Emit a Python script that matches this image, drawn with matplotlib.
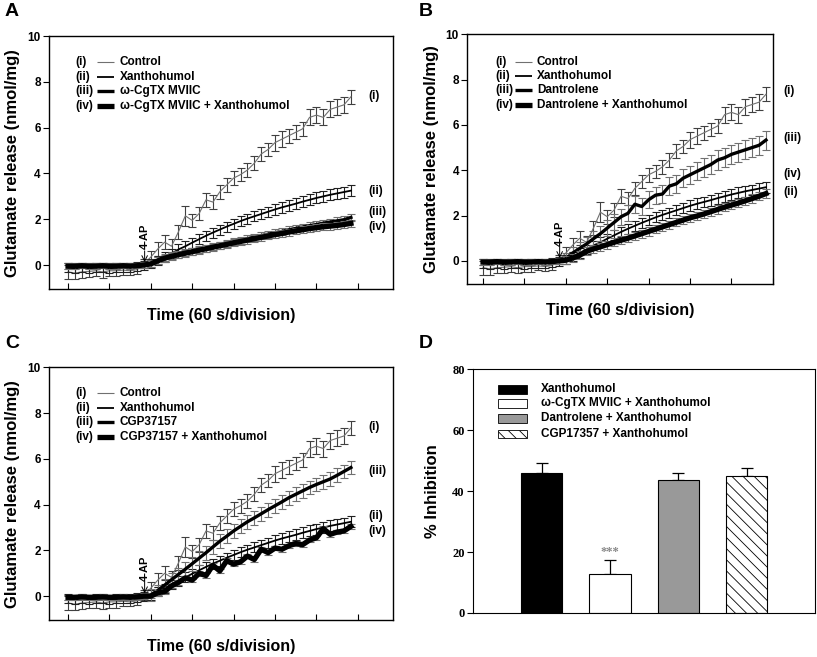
import matplotlib
matplotlib.use('Agg')
import matplotlib.pyplot as plt
import numpy as np
from matplotlib.patches import Rectangle

plt.rcParams['font.family'] = ['Liberation Sans', 'DejaVu Sans']
plt.rcParams['font.weight'] = 'bold'
plt.rcParams['hatch.linewidth'] = 0.6

# time grid, 10 s samples (x axis in minutes = divisions)
t = np.arange(42) / 6.0
t_4ap = 1.9

control = [-0.30, -0.35, -0.30, -0.28, -0.25, -0.30, -0.25, -0.25, -0.22, -0.25, -0.20, 0.05,
           0.35, 0.70, 1.00, 0.82, 1.45, 2.15, 1.95, 2.25, 2.85, 2.75, 3.20, 3.50, 3.80, 3.95,
           4.15, 4.45, 4.85, 5.05, 5.35, 5.50, 5.65, 5.80, 5.95, 6.45, 6.55, 6.45, 6.80, 6.90,
           7.00, 7.35]
control_err = [0.30, 0.25, 0.25, 0.25, 0.25, 0.25, 0.25, 0.25, 0.20, 0.20, 0.20, 0.20,
               0.25, 0.30, 0.30, 0.30, 0.30, 0.45, 0.30, 0.30, 0.30, 0.30, 0.30, 0.30, 0.30, 0.30,
               0.30, 0.30, 0.30, 0.30, 0.35, 0.35, 0.30, 0.30, 0.30, 0.35, 0.35, 0.35, 0.35, 0.35,
               0.35, 0.30]
xanth = [-0.10, -0.15, -0.10, -0.15, -0.10, -0.10, -0.15, -0.10, -0.10, -0.10, -0.05, -0.02,
         0.05, 0.20, 0.35, 0.50, 0.68, 0.82, 0.98, 1.13, 1.28, 1.42, 1.55, 1.68, 1.80, 1.92,
         2.03, 2.13, 2.23, 2.33, 2.43, 2.52, 2.60, 2.68, 2.77, 2.85, 2.93, 3.00, 3.07, 3.13,
         3.19, 3.25]
xanth_err = [0.20] * 12 + [0.20, 0.20, 0.20, 0.20, 0.22, 0.22, 0.22, 0.22, 0.22, 0.22, 0.22, 0.22,
                           0.22, 0.22, 0.22, 0.22, 0.22, 0.22, 0.24, 0.24, 0.24, 0.24, 0.24, 0.24,
                           0.24, 0.24, 0.24, 0.24, 0.24, 0.24]

base_thick = [-0.05, -0.05, -0.03, -0.05, -0.05, -0.03, -0.05, -0.05, -0.03, -0.05, -0.03, 0.0]

cgtx = base_thick + [0.06, 0.20, 0.32, 0.40, 0.47, 0.53, 0.60, 0.67, 0.74, 0.80, 0.87, 0.94,
                     1.01, 1.08, 1.15, 1.22, 1.28, 1.35, 1.41, 1.47, 1.54, 1.60, 1.66, 1.72,
                     1.77, 1.83, 1.88, 1.93, 1.98, 2.08]
cgtx_x = base_thick + [0.05, 0.18, 0.30, 0.38, 0.45, 0.52, 0.58, 0.65, 0.71, 0.78, 0.84, 0.90,
                       0.97, 1.03, 1.09, 1.15, 1.21, 1.27, 1.33, 1.38, 1.44, 1.49, 1.54, 1.59,
                       1.63, 1.67, 1.70, 1.73, 1.77, 1.82]
cgtx_err = [0.12] * 12 + [0.15] * 30

dantro = base_thick + [0.10, 0.35, 0.55, 0.75, 0.98, 1.20, 1.45, 1.70, 1.95, 2.10, 2.50, 2.40,
                       2.70, 2.90, 2.95, 3.30, 3.40, 3.65, 3.80, 3.95, 4.10, 4.25, 4.45, 4.55,
                       4.70, 4.80, 4.90, 5.00, 5.10, 5.33]
dantro_err = [0.12] * 12 + [0.25, 0.28, 0.30, 0.30, 0.32, 0.32, 0.35, 0.35, 0.35, 0.35, 0.38, 0.38,
                            0.38, 0.38, 0.40, 0.40, 0.40, 0.40, 0.40, 0.40, 0.42, 0.42, 0.42, 0.42,
                            0.42, 0.42, 0.42, 0.42, 0.42, 0.42]
dantro_x = base_thick + [0.03, 0.13, 0.25, 0.42, 0.53, 0.62, 0.72, 0.82, 0.91, 1.00, 1.10, 1.20,
                         1.30, 1.40, 1.50, 1.60, 1.70, 1.80, 1.90, 1.98, 2.07, 2.17, 2.27, 2.37,
                         2.46, 2.55, 2.65, 2.75, 2.85, 2.97]
dantro_x_err = [0.12] * 12 + [0.18] * 30

cgp = base_thick + [0.05, 0.25, 0.48, 0.72, 0.95, 1.18, 1.42, 1.66, 1.90, 2.15, 2.40, 2.62,
                    2.85, 3.05, 3.25, 3.42, 3.60, 3.78, 3.95, 4.12, 4.30, 4.45, 4.60, 4.75,
                    4.88, 5.00, 5.12, 5.28, 5.45, 5.62]
cgp_err = [0.12] * 12 + [0.25, 0.25, 0.28, 0.28, 0.28, 0.30, 0.30, 0.30, 0.30, 0.30, 0.30, 0.30,
                         0.30, 0.30, 0.30, 0.30, 0.30, 0.30, 0.30, 0.30, 0.30, 0.30, 0.30, 0.30,
                         0.30, 0.30, 0.30, 0.30, 0.30, 0.30]
cgp_x = base_thick + [0.00, 0.15, 0.20, 0.45, 0.60, 0.80, 0.70, 1.00, 0.90, 1.35, 1.10, 1.55,
                      1.40, 1.50, 1.75, 1.60, 2.05, 1.90, 2.10, 2.05, 2.20, 2.30, 2.25, 2.45,
                      2.55, 2.95, 2.70, 2.80, 2.85, 3.05]
cgp_x_err = [0.10] * 42

panels = [
    ('A', ['Control', 'Xanthohumol', '\u03c9-CgTX MVIIC', '\u03c9-CgTX MVIIC + Xanthohumol'],
     cgtx, cgtx_err, cgtx_x, cgtx_err,
     [('(i)', 7.4), ('(ii)', 3.25), ('(iii)', 2.3), ('(iv)', 1.65)]),
    ('B', ['Control', 'Xanthohumol', 'Dantrolene', 'Dantrolene + Xanthohumol'],
     dantro, dantro_err, dantro_x, dantro_x_err,
     [('(i)', 7.5), ('(iii)', 5.4), ('(iv)', 3.85), ('(ii)', 3.05)]),
    ('C', ['Control', 'Xanthohumol', 'CGP37157', 'CGP37157 + Xanthohumol'],
     cgp, cgp_err, cgp_x, cgp_x_err,
     [('(i)', 7.4), ('(iii)', 5.45), ('(ii)', 3.5), ('(iv)', 2.85)]),
]

# axes rectangles (figure fractions) and x ranges
rects = {'A': [0.060, 0.560, 0.421, 0.385],
         'B': [0.572, 0.568, 0.374, 0.380],
         'C': [0.060, 0.056, 0.421, 0.385]}
xlims = {'A': (-0.46, 7.85), 'B': (-0.38, 6.97), 'C': (-0.46, 7.85)}
ylims = {'A': (-1.05, 10), 'B': (-1.01, 10), 'C': (-1.05, 10)}
leg_pos = {'A': (0.078, 0.14, 0.19, 0.206, [0.897, 0.838, 0.783, 0.723]),
           'B': (0.092, 0.157, 0.212, 0.228, [0.889, 0.832, 0.776, 0.716]),
           'C': (0.078, 0.14, 0.19, 0.206, [0.898, 0.840, 0.784, 0.725])}
letter_pos = {'A': (0.006, 0.995), 'B': (0.513, 0.995), 'C': (0.006, 0.49), 'D': (0.513, 0.49)}

fig = plt.figure(figsize=(8.17, 6.57), dpi=100)

numerals = ['(i)', '(ii)', '(iii)', '(iv)']
widths = [0.8, 1.3, 2.4, 3.8]
colors = ['#707070', 'black', 'black', 'black']

for name, labels, s3, e3, s4, e4, endlabels in panels:
    ax = fig.add_axes(rects[name])
    series = [(control, control_err), (xanth, xanth_err), (s3, e3), (s4, e4)]
    ecols = ['#404040', '#202020', '#707070', '#707070']
    for k, (vals, err) in enumerate(series):
        ax.errorbar(t, vals, yerr=err, color=colors[k], lw=widths[k], ecolor=ecols[k],
                    elinewidth=0.8, capsize=3, capthick=0.8, zorder=2 + k)
    ax.set_xlim(*xlims[name])
    ax.set_ylim(*ylims[name])
    ax.set_yticks([0, 2, 4, 6, 8, 10])
    ax.set_xticks(range(8))
    ax.set_xticklabels([])
    ax.tick_params(axis='x', direction='in', length=4, width=0.8)
    ax.tick_params(axis='y', direction='out', length=4, width=0.8, labelsize=8.5, pad=2)
    for sp in ax.spines.values():
        sp.set_linewidth(1.0)
    ax.set_ylabel('Glutamate release (nmol/mg)', fontsize=12, fontweight='bold', labelpad=5)
    ax.set_xlabel('Time (60 s/division)', fontsize=11.5, fontweight='bold', labelpad=10)

    # 4-AP marker
    ax.annotate('', xy=(t_4ap - 0.05, 0.12), xytext=(t_4ap - 0.05, 0.62),
                arrowprops=dict(arrowstyle='->', lw=0.7, color='black', shrinkA=0, shrinkB=0))
    ax.text(t_4ap - 0.05, 0.68, '4-AP', rotation=90, ha='center', va='bottom', fontsize=8)

    # legend drawn by hand
    xn, x0, x1, xt, rows = leg_pos[name]
    for k in range(4):
        ax.text(xn, rows[k], numerals[k], transform=ax.transAxes, fontsize=8.5, va='center')
        ax.plot([x0, x1], [rows[k], rows[k]], transform=ax.transAxes, color=colors[k],
                lw=widths[k], solid_capstyle='butt')
        ax.text(xt, rows[k], labels[k], transform=ax.transAxes, fontsize=8.5, va='center')

    xend = xlims[name][1] - 0.6 if name != 'B' else 7.25
    for lab, yv in endlabels:
        ax.text(xend, yv, lab, fontsize=8.5, va='center', ha='left', clip_on=False)

# panel D
d_labels = ['Xanthohumol', '\u03c9-CgTX MVIIC + Xanthohumol', 'Dantrolene + Xanthohumol',
            'CGP17357 + Xanthohumol']
d_vals = [46.0, 12.7, 43.6, 45.0]
d_err = [3.2, 4.6, 2.2, 2.7]
d_colors = ['black', 'white', '#999999', 'white']
d_hatch = [None, None, None, '\\\\\\']

axd = fig.add_axes([0.579, 0.067, 0.419, 0.371])
xpos = np.arange(1, 5)
for k in range(4):
    axd.bar(xpos[k], d_vals[k], width=0.6, color=d_colors[k], edgecolor='black',
            linewidth=0.8, hatch=d_hatch[k], zorder=2)
axd.errorbar(xpos, d_vals, yerr=[[0] * 4, d_err], fmt='none', ecolor='black',
             elinewidth=0.9, capsize=4, capthick=0.9, zorder=1)
axd.text(2, 18.2, '***', ha='center', va='bottom', fontsize=9, color='#888888',
         family='Liberation Serif')
axd.set_xlim(0, 5)
axd.set_ylim(0, 80)
axd.set_xticks([])
axd.set_yticks([0, 20, 40, 60, 80])
axd.tick_params(axis='y', direction='out', length=4, width=0.8, pad=2)
for lbl in axd.get_yticklabels():
    lbl.set_family('Liberation Serif')
    lbl.set_fontsize(9)
    lbl.set_fontweight('bold')
axd.set_ylabel('% Inhibition', fontsize=12, fontweight='bold', labelpad=9)
d_rows = [0.918, 0.861, 0.799, 0.734]
for k in range(4):
    axd.add_patch(Rectangle((0.073, d_rows[k] - 0.018), 0.085, 0.036, transform=axd.transAxes,
                            facecolor=d_colors[k], edgecolor='black', lw=0.6,
                            hatch=d_hatch[k], clip_on=False))
    axd.text(0.199, d_rows[k], d_labels[k], transform=axd.transAxes, fontsize=8.5, va='center')

for name, (lx, ly) in letter_pos.items():
    fig.text(lx, ly, name, fontsize=14, fontweight='bold', va='top', ha='left')

fig.savefig('out.png', dpi=100)
